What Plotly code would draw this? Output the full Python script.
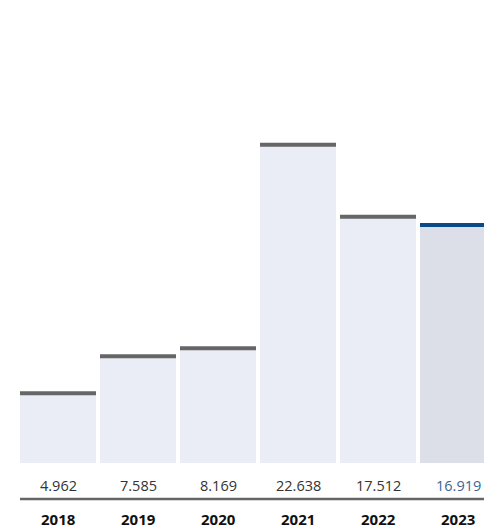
import plotly.graph_objects as go

years = ["2018", "2019", "2020", "2021", "2022", "2023"]
values = [4.962, 7.585, 8.169, 22.638, 17.512, 16.919]
value_labels = ["4.962", "7.585", "8.169", "22.638", "17.512", "16.919"]

fill_colors = ["#EAEDF5"] * 5 + ["#DCDFE8"]
cap_colors = ["#666666"] * 5 + ["#0B4A86"]
label_colors = ["#333333"] * 5 + ["#3C6496"]

W, H = 484, 529
ml, mb = 18, 66
plot_h = H - mb
px_per_unit = 14.06
cap_t = 4 / px_per_unit

xs = list(range(len(years)))
fig = go.Figure()
fig.add_trace(go.Bar(x=xs, y=values, marker=dict(color=fill_colors, line=dict(width=0)),
                     width=0.95, hoverinfo="skip"))
fig.add_trace(go.Bar(x=xs, y=[cap_t] * len(values), base=[v - cap_t / 2 for v in values],
                     marker=dict(color=cap_colors, line=dict(width=0)), width=0.95, hoverinfo="skip"))

for i, (yr, lab, col) in enumerate(zip(years, value_labels, label_colors)):
    fig.add_annotation(x=i, y=0, xref="x", yref="paper", text=lab, showarrow=False,
                       yanchor="middle", yshift=-22, font=dict(family="Open Sans", size=14.5, color=col))
    fig.add_annotation(x=i, y=0, xref="x", yref="paper", text="<b>" + yr + "</b>", showarrow=False,
                       yanchor="middle", yshift=-56, font=dict(family="Open Sans", size=15, color="#111111"))

line_y = -(499 - plot_h) / plot_h
fig.add_shape(type="line", xref="paper", yref="paper", x0=2 / (W - ml), x1=1, y0=line_y, y1=line_y,
              line=dict(color="#666666", width=2.5))

fig.update_layout(
    width=W, height=H, margin=dict(l=ml, r=0, t=0, b=mb),
    paper_bgcolor="white", plot_bgcolor="white", showlegend=False,
    barmode="overlay",
    xaxis=dict(range=[-0.5, -0.5 + (W - ml) / 80], visible=False, fixedrange=True),
    yaxis=dict(range=[0, plot_h / px_per_unit], visible=False, fixedrange=True),
)
fig.write_html("out.html")
